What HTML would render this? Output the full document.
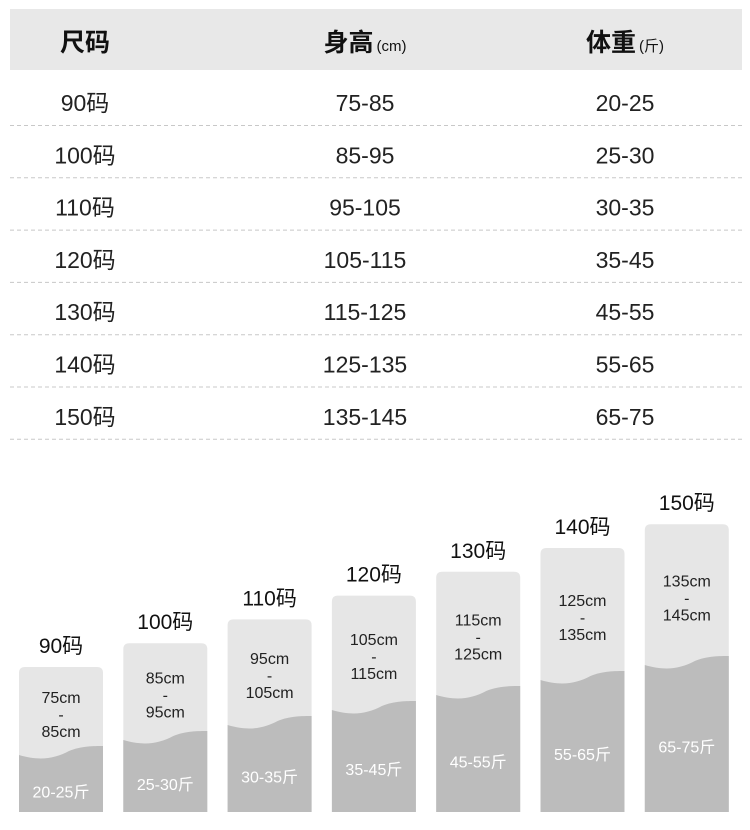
<!DOCTYPE html>
<html><head><meta charset="utf-8"><style>
body{margin:0;background:#fff;font-family:"Liberation Sans","Noto Sans CJK SC",sans-serif;}
#wrap{position:relative;width:750px;height:830px;overflow:hidden;}
svg text{font-family:"Liberation Sans","Noto Sans CJK SC",sans-serif;}
</style></head><body>
<div id="wrap">
<svg id="svg" width="750" height="830"></svg>
</div>
<script>
const sizes=[90,100,110,120,130,140,150];
const heightRanges=["75-85","85-95","95-105","105-115","115-125","125-135","135-145"];
const weightRanges=["20-25","25-30","30-35","35-45","45-55","55-65","65-75"];
const hMin=[75,85,95,105,115,125,135];
const hMax=[85,95,105,115,125,135,145];

const NS="http://www.w3.org/2000/svg";
const svg=document.getElementById('svg');
function mk(tag,attrs,parent){const e=document.createElementNS(NS,tag);for(const k in attrs)e.setAttribute(k,attrs[k]);(parent||svg).appendChild(e);return e;}

// table header
const hdr=mk('rect',{x:10,y:9,width:732,height:61,fill:'#e8e8e8'});


const cols=[85,365,625];
const heads=[["尺码",""],["身高","(cm)"],["体重","(斤)"]];
heads.forEach((h,i)=>{
  const t=mk('text',{x:cols[i],y:51,'text-anchor':'middle','font-size':25,fill:'#111','font-weight':'bold'});
  
  
  t.textContent=h[0];
  if(h[1]){const s=mk('tspan',{'font-size':15,'font-weight':'normal',dx:3},t);s.textContent=h[1];}
});
// rows
const rowY0=102,rowStep=52.3;
sizes.forEach((s,i)=>{
  const y=rowY0+i*rowStep;
  const vals=[s+"码",heightRanges[i],weightRanges[i]];
  vals.forEach((v,j)=>{
    const t=mk('text',{x:cols[j],y:y+9,'text-anchor':'middle','font-size':23,fill:'#222'});
    
    
    t.textContent=v;
  });
  const l=mk('line',{x1:10,x2:742,y1:y+23.5,y2:y+23.5,stroke:'#c8c8c8','stroke-width':1,'stroke-dasharray':'4,3'});
  
  
});

// bars
const bottom=812,bw=84;
function xBar(i){return 19+i*104.3;}
function yTop(s){return 667-(s-90)*2.38;}
function yWave(s){return 755-(s-90)*1.5;}
sizes.forEach((s,i)=>{
  const x=xBar(i),top=yTop(s),w=yWave(s);
  const g=mk('g',{});
  
  
  const r=6;
  mk('path',{d:`M${x},${bottom} L${x},${top+r} Q${x},${top} ${x+r},${top} L${x+bw-r},${top} Q${x+bw},${top} ${x+bw},${top+r} L${x+bw},${bottom} Z`,fill:'#e6e6e6'},g);
  mk('path',{d:`M${x},${w} C${x+20},${w+6} ${x+35},${w+4} ${x+50},${w-4} C${x+62},${w-9} ${x+75},${w-9} ${x+bw},${w-9} L${x+bw},${bottom} L${x},${bottom} Z`,fill:'#bcbcbc'},g);
  const lab=mk('text',{x:x+bw/2,y:top-14,'text-anchor':'middle','font-size':21,fill:'#111'},g);
  
  
  lab.textContent=s+"码";
  const cy=(top+w)/2+3;
  [[hMin[i]+"cm",-17],["-",0],[hMax[i]+"cm",17]].forEach((p,k)=>{
    const t=mk('text',{x:x+bw/2,y:cy+p[1]+6,'text-anchor':'middle','font-size':16,fill:'#222'},g);
    
    
    t.textContent=p[0];
  });
  const wt=mk('text',{x:x+bw/2,y:(w+bottom)/2+14,'text-anchor':'middle','font-size':16,fill:'#fff'},g);
  
  
  wt.textContent=weightRanges[i]+"斤";
});
</script>
</body></html>
